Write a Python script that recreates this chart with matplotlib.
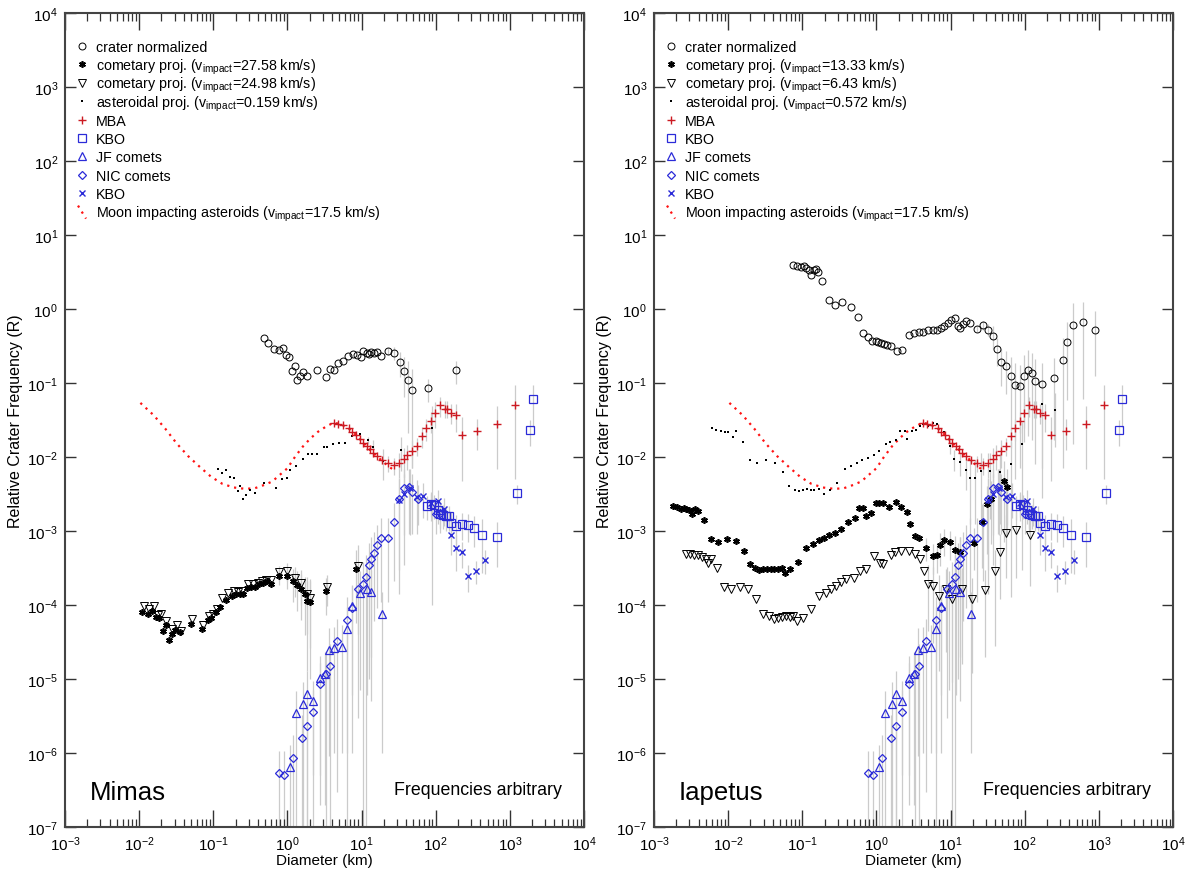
import matplotlib
matplotlib.use("Agg")
import matplotlib.pyplot as plt
import numpy as np

plt.rcParams['font.family'] = ['Liberation Sans', 'DejaVu Sans']
plt.rcParams['mathtext.fontset'] = 'custom'
plt.rcParams['mathtext.rm'] = 'Liberation Sans'

# ---- impactor populations (same on both panels) ----
moon_d = [0.0104, 0.0157, 0.0224, 0.032, 0.0457, 0.0652, 0.093, 0.133, 0.19, 0.271, 0.365, 0.49, 0.622, 0.789,
          1.0, 1.27, 1.61, 2.04, 2.58, 3.28, 4.16, 5.27, 6.68, 8.47, 10.7, 13.6, 17.3, 21.9, 26.2]
moon_r = [0.0538, 0.0367, 0.0243, 0.0153, 0.0103, 0.00741, 0.00543, 0.00433, 0.00387, 0.00371, 0.00379, 0.0042,
          0.00466, 0.00573, 0.00705, 0.0101, 0.0138, 0.0178, 0.0219, 0.0256, 0.029, 0.0278, 0.0243, 0.0198,
          0.0153, 0.0118, 0.0096, 0.0078, 0.00683]

mba_d = [4.25, 4.79, 5.59, 6.68, 7.52, 8.47, 9.53, 10.5, 11.7, 12.8, 14.4, 16.3, 19.0, 22.4, 27.1, 32.4, 37.3,
         41.0, 47.3, 55.2, 64.4, 74.3, 85.7, 98.9, 115, 133, 143, 161, 185, 227, 356, 668, 1180]
mba_r = [0.029, 0.0278, 0.0267, 0.0243, 0.0219, 0.0198, 0.0173, 0.0156, 0.0141, 0.0127, 0.0114, 0.0103, 0.0091,
         0.0082, 0.0078, 0.0082, 0.0094, 0.0106, 0.0122, 0.0142, 0.0194, 0.0243, 0.0308, 0.0399, 0.050, 0.0452,
         0.0452, 0.0395, 0.0367, 0.0198, 0.0226, 0.0278, 0.050]
mba_err = [0.001, 0.002, 0.002, 0.003, 0.004, 0.004, 0.005, 0.004, 0.006, 0.008, 0.01, 0.015, 0.015, 0.012,
           0.012, 0.012, 0.015, 0.015, 0.01, 0.021, 0.045]

kbo_d = [76.1, 85.7, 94.2, 106, 115, 127, 138, 150, 161, 185, 227, 271, 328, 425, 668, 1240, 1850, 2040]
kbo_r = [0.00221, 0.00233, 0.00226, 0.00194, 0.00169, 0.00166, 0.00161, 0.00161, 0.00128, 0.00116, 0.00126,
         0.00122, 0.0011, 0.00087, 0.00083, 0.00324, 0.0231, 0.0603]
kbo_err = [0.0008, 0.0008, 0.0008, 0.0007, 0.0006, 0.0006, 0.0006, 0.0006, 0.0005, 0.0005, 0.0005, 0.0005,
           0.0005, 0.0006, 0.0005, 0.0009, 0.009, 0.035]

kbox_d = [32.4, 37.3, 44.6, 55.2, 67.6, 85.7, 109, 130, 161, 185, 227, 271, 348, 462]
kbox_r = [0.00264, 0.00315, 0.00387, 0.00292, 0.0030, 0.00238, 0.00256, 0.00198, 0.00087, 0.00059, 0.00052,
          0.00025, 0.00029, 0.00041]
kbox_err = [0.0025, 0.0028, 0.003, 0.002, 0.0015, 0.001, 0.001, 0.0008, 0.0004, 0.0003, 0.0002, 0.0001,
            0.0001, 0.00015]

nic_d = [0.76, 0.90, 1.19, 1.55, 1.83, 2.24, 2.74, 3.28, 3.78, 4.68, 6.44, 7.5, 9.0, 10.5, 11.5, 12.5, 13.3,
         14.8, 15.9, 18.5, 22.4, 27.4, 32.4, 37.8, 43, 47.9, 58, 102, 115]
nic_r = [5.3e-7, 5.0e-7, 8.5e-7, 1.58e-6, 2.34e-6, 3.55e-6, 8.5e-6, 1.17e-5, 1.51e-5, 3.23e-5, 6.3e-5, 9.1e-5,
         1.63e-4, 1.9e-4, 2.4e-4, 3.5e-4, 4.2e-4, 5.1e-4, 6.4e-4, 8.1e-4, 8.1e-4, 1.31e-3, 2.7e-3, 3.87e-3,
         3.9e-3, 3.4e-3, 2.7e-3, 1.7e-3, 1.75e-3]
nic_err = [5.5e-7, 5.5e-7, 9e-7, 1.7e-6, 2.5e-6, 3.5e-6, 8e-6, 1.2e-5, 1.5e-5, 3.2e-5, 6.5e-5, 9e-5, 1.6e-4,
           1.9e-4, 2.4e-4, 3.4e-4, 4e-4, 4.5e-4, 5.5e-4, 7e-4, 7e-4, 1.1e-3, 2.4e-3, 3e-3, 3e-3, 2.5e-3,
           1.5e-3, 8e-4, 8e-4]

jf_d = [1.09, 1.31, 1.61, 1.85, 2.24, 2.74, 3.24, 3.69, 4.25, 5.46, 6.44, 7.5, 9.5, 11.7, 13.3, 19.0]
jf_r = [6.5e-7, 3.44e-6, 4.6e-6, 6.3e-6, 5.0e-6, 1.02e-5, 1.17e-5, 2.49e-5, 2.6e-5, 2.7e-5, 4.7e-5, 9.6e-5,
        1.47e-4, 1.66e-4, 1.5e-4, 7.6e-5]
jf_err = [6.5e-7, 3.4e-6, 4.6e-6, 6.5e-6, 4.5e-6, 1e-5, 1.15e-5, 2.4e-5, 2.5e-5, 2.6e-5, 4.6e-5, 9e-5, 1.4e-4,
          1.6e-4, 1.45e-4, 7.5e-5]

# ---- Mimas ----
mimas_crater_d = [0.48, 0.55, 0.66, 0.76, 0.86, 0.95, 1.05, 1.15, 1.27, 1.36, 1.48, 1.63, 1.83, 2.49, 3.28, 3.78,
                  4.25, 4.79, 5.59, 6.6, 7.6, 8.6, 9.7, 10.6, 11.7, 12.5, 13.6, 14.8, 16.3, 18.3, 22.7, 27.4,
                  32.7, 37.8, 42.6, 47.9, 78, 185]
mimas_crater_r = [0.407, 0.35, 0.29, 0.275, 0.30, 0.24, 0.224, 0.144, 0.171, 0.109, 0.123, 0.142, 0.126, 0.151,
                  0.120, 0.157, 0.151, 0.186, 0.198, 0.229, 0.248, 0.240, 0.224, 0.269, 0.256, 0.243, 0.261,
                  0.256, 0.261, 0.229, 0.269, 0.256, 0.19, 0.145, 0.111, 0.081, 0.085, 0.148]
mimas_crater_err = [0.03, 0.05, 0.07, 0.08, 0.09, 0.074, 0.03, 0.05]

mimas_com1_d = [0.0110, 0.01316, 0.0148, 0.0167, 0.0188, 0.0211, 0.0230, 0.0252, 0.0274, 0.0309, 0.0361, 0.0502,
                0.071, 0.0838, 0.093, 0.1087, 0.125, 0.150, 0.179, 0.201, 0.227, 0.255, 0.288, 0.324, 0.365,
                0.41, 0.462, 0.533, 0.608, 0.76, 0.98, 1.19, 1.35, 1.51, 1.71, 1.81, 1.99, 3.36, 8.47]
mimas_com1_r = [8.1e-5, 7.6e-5, 8.4e-5, 6.8e-5, 6.7e-5, 4.5e-5, 5.3e-5, 3.4e-5, 4.1e-5, 4.6e-5, 4.3e-5, 5.5e-5,
                4.8e-5, 6.3e-5, 6.6e-5, 8.0e-5, 9.3e-5, 1.16e-4, 1.32e-4, 1.39e-4, 1.39e-4, 1.39e-4, 1.71e-4,
                1.77e-4, 1.77e-4, 1.9e-4, 2.0e-4, 2.1e-4, 1.9e-4, 2.45e-4, 2.45e-4, 2.1e-4, 1.84e-4, 1.63e-4,
                1.39e-4, 1.13e-4, 1.1e-4, 1.54e-4, 3.08e-4]
mimas_com1_err = [6e-5, 8e-5, 1e-4, 1e-4, 1e-4, 1e-4, 1e-4, 1e-4, 8e-5, 2.5e-4]

mimas_com2_d = [0.01167, 0.0136, 0.0157, 0.0177, 0.0199, 0.023, 0.0274, 0.032, 0.0369, 0.0514, 0.0734, 0.0877,
                0.099, 0.113, 0.133, 0.159, 0.19, 0.214, 0.247, 0.298, 0.345, 0.396, 0.457, 0.52, 0.608, 0.76,
                1.0, 1.27, 1.51, 1.81, 2.04, 3.47, 9.0]
mimas_com2_r = [9.6e-5, 8.8e-5, 9.6e-5, 7.3e-5, 7.6e-5, 6.0e-5, 4.7e-5, 5.3e-5, 4.4e-5, 6.5e-5, 5.4e-5, 7.2e-5,
                7.6e-5, 8.8e-5, 1.26e-4, 1.44e-4, 1.54e-4, 1.5e-4, 1.54e-4, 1.9e-4, 1.92e-4, 2.0e-4, 2.1e-4,
                2.2e-4, 2.2e-4, 2.8e-4, 2.9e-4, 2.3e-4, 2.0e-4, 1.4e-4, 1.26e-4, 1.77e-4, 3.4e-4]
mimas_com2_err = [6e-5, 8e-5, 1e-4, 1e-4, 1e-4, 1e-4, 8e-5, 3e-4]

mimas_ast_d = [0.114, 0.133, 0.150, 0.169, 0.190, 0.214, 0.232, 0.252, 0.274, 0.309, 0.365, 0.49, 0.70, 0.84,
               0.977, 1.10, 1.31, 1.61, 1.88, 2.16, 2.52, 3.09, 3.47, 4.16, 4.97, 5.93, 7.5, 9.5, 12.1, 14.4,
               19.4, 34.4, 88.8]
mimas_ast_r = [0.00683, 0.00615, 0.00668, 0.00544, 0.00527, 0.00342, 0.00407, 0.00269, 0.00308, 0.0036, 0.00331,
               0.00442, 0.00379, 0.00501, 0.00527, 0.00668, 0.00764, 0.0094, 0.01086, 0.01086, 0.01086, 0.0138,
               0.0135, 0.0150, 0.0156, 0.0156, 0.0192, 0.0202, 0.0169, 0.0138, 0.00883, 0.0124, 0.0248]
mimas_ast_err = [0.002, 0.003, 0.004, 0.006, 0.0247]

# ---- Iapetus ----
iap_crater_d = [0.076, 0.0857, 0.0966, 0.105, 0.113, 0.122, 0.133, 0.143, 0.155, 0.164, 0.185, 0.227, 0.274,
                0.347, 0.452, 0.558, 0.66, 0.76, 0.867, 0.977, 1.06, 1.17, 1.28, 1.41, 1.55, 1.87, 2.24, 2.74,
                3.2, 3.73, 4.31, 4.97, 5.73, 6.52, 7.35, 8.28, 9.31, 10.2, 11.4, 12.5, 13.3, 14.5, 15.9, 18.5,
                22.7, 27.1, 32.4, 37.8, 42.6, 47.9, 55.2, 66.1, 74.3, 85.7, 96.6, 110, 127, 138, 171, 249, 328,
                373, 452, 608, 899]
iap_crater_r = [3.97, 3.84, 3.69, 3.84, 3.58, 3.40, 2.91, 3.32, 3.47, 3.16, 2.41, 1.31, 1.14, 1.23, 1.06, 0.77,
                0.475, 0.419, 0.366, 0.366, 0.355, 0.348, 0.34, 0.33, 0.32, 0.268, 0.277, 0.45, 0.475, 0.484,
                0.494, 0.515, 0.526, 0.526, 0.554, 0.596, 0.647, 0.718, 0.756, 0.583, 0.554, 0.634, 0.682, 0.647,
                0.543, 0.602, 0.526, 0.437, 0.288, 0.191, 0.172, 0.123, 0.095, 0.092, 0.126, 0.149, 0.137, 0.108,
                0.097, 0.117, 0.207, 0.359, 0.615, 0.661, 0.526]
iap_crater_err = [0.05, 0.08, 0.1, 0.15, 0.12, 0.1, 0.1, 0.1, 0.09, 0.085, 0.11, 0.13, 0.12, 0.1, 0.09, 0.1,
                  0.2, 0.3, 0.6, 0.6, 0.4]

iap_com1_d = [0.00181, 0.00204, 0.0023, 0.00252, 0.00274, 0.00301, 0.00327, 0.00357, 0.00392, 0.00479, 0.00593,
              0.00734, 0.00953, 0.0128, 0.0163, 0.0197, 0.0232, 0.0262, 0.0294, 0.0332, 0.0373, 0.0421, 0.0473,
              0.0533, 0.0586, 0.0676, 0.0877, 0.113, 0.138, 0.169, 0.197, 0.227, 0.274, 0.336, 0.41, 0.52, 0.586,
              0.66, 0.726, 0.838, 0.977, 1.10, 1.24, 1.48, 1.83, 2.16, 2.55, 2.84, 3.32, 3.73, 4.62, 5.79, 6.52,
              7.1, 8.28, 9.9, 11.4, 13.3, 20.6, 26.5, 31.3, 35.2, 52, 57.3]
iap_com1_r = [0.00217, 0.00213, 0.00196, 0.00206, 0.002, 0.00192, 0.00168, 0.00196, 0.00186, 0.00141, 0.000787,
              0.00071, 0.000787, 0.000725, 0.000537, 0.000355, 0.00032, 0.000294, 0.000304, 0.00031, 0.00031,
              0.00031, 0.00031, 0.000313, 0.000274, 0.000304, 0.000385, 0.000595, 0.00066, 0.000748, 0.000812,
              0.000873, 0.000948, 0.00107, 0.00132, 0.00151, 0.00202, 0.00202, 0.00159, 0.00177, 0.00236,
              0.00236, 0.00236, 0.0021, 0.00246, 0.00213, 0.00182, 0.00126, 0.000855, 0.000812, 0.000595,
              0.00046, 0.00047, 0.00064, 0.000755, 0.00071, 0.000548, 0.00052, 0.000695, 0.00132, 0.00229,
              0.00267, 0.00472, 0.00392]
iap_com1_err = [0.0002, 0.0002, 0.0002, 0.0003, 0.0003, 0.0003, 0.0003, 0.0003, 0.0004, 0.001, 0.0018, 0.002,
                0.004, 0.003]

iap_com2_d = [0.00274, 0.00309, 0.00348, 0.00392, 0.0044, 0.00497, 0.00527, 0.00593, 0.0071, 0.00877, 0.011,
              0.0145, 0.0188, 0.0238, 0.0294, 0.0352, 0.0421, 0.0473, 0.0533, 0.06, 0.0676, 0.076, 0.0857, 0.102,
              0.130, 0.169, 0.209, 0.244, 0.281, 0.336, 0.392, 0.497, 0.608, 0.726, 0.92, 1.13, 1.24, 1.57,
              1.77, 2.16, 2.74, 3.32, 3.82, 4.41, 4.97, 5.79, 6.92, 8.57, 10.5, 14.1, 19.7, 29.4, 39.6, 46.2,
              56.6, 76, 119]
iap_com2_r = [0.000494, 0.000484, 0.000469, 0.000469, 0.00045, 0.000414, 0.000373, 0.000423, 0.000313, 0.000177,
              0.000163, 0.000177, 0.000163, 0.000122, 7.65e-5, 7.12e-5, 6.55e-5, 6.76e-5, 6.97e-5, 7.12e-5,
              6.97e-5, 7.12e-5, 6.1e-5, 6.76e-5, 8.75e-5, 0.000133, 0.000147, 0.000166, 0.000181, 0.000205,
              0.000222, 0.000234, 0.000288, 0.00031, 0.000459, 0.000366, 0.000355, 0.000469, 0.00052, 0.000537,
              0.000537, 0.000484, 0.000414, 0.000288, 0.000195, 0.000181, 0.000133, 0.000163, 0.000119,
              0.000166, 0.000122, 0.00016, 0.000288, 0.00052, 0.00093, 0.00103, 0.00088]
iap_com2_err = [0.00015, 0.00015, 0.00012, 0.00014, 0.00011, 0.00015, 0.00011, 0.00014, 0.00026, 0.0004, 0.0007,
                0.0008, 0.0007]

iap_ast_d = [0.00615, 0.00692, 0.00798, 0.0090, 0.0101, 0.01167, 0.0128, 0.0159, 0.0195, 0.0247, 0.0324, 0.0435,
             0.0546, 0.0661, 0.0789, 0.091, 0.102, 0.115, 0.130, 0.146, 0.169, 0.197, 0.235, 0.291, 0.377,
             0.452, 0.54, 0.644, 0.771, 0.92, 1.10, 1.35, 1.51, 1.81, 2.11, 2.44, 2.62, 3.01, 3.40, 3.82, 4.31,
             4.97, 5.79, 6.52, 8.28, 9.9, 11.1, 13.3, 15.9, 18.5, 21.4, 25.5, 34.4, 46.2, 66.1, 92, 171, 258]
iap_ast_r = [0.0248, 0.0235, 0.0223, 0.0217, 0.0217, 0.0187, 0.0223, 0.0159, 0.00908, 0.00818, 0.00908, 0.00835,
             0.00625, 0.00405, 0.00357, 0.00346, 0.00357, 0.00365, 0.00357, 0.00357, 0.00372, 0.00312, 0.00357,
             0.00449, 0.00679, 0.00753, 0.00818, 0.00908, 0.00975, 0.0106, 0.012, 0.0148, 0.0159, 0.0169,
             0.0223, 0.0223, 0.0176, 0.0223, 0.0235, 0.0261, 0.0281, 0.0261, 0.0284, 0.0275, 0.0217, 0.014,
             0.00946, 0.00861, 0.00658, 0.00524, 0.00524, 0.00644, 0.00644, 0.00625, 0.00793, 0.0148, 0.0528,
             0.0438]
iap_ast_err = [0.003, 0.003, 0.003, 0.003, 0.004, 0.004, 0.005, 0.005, 0.005, 0.0078, 0.0145, 0.05, 0.03]

BLUE = '#2b2bd8'
RED = '#cc1a22'
MOON_RED = '#ff1414'
GREY = '#cbcbcb'

# figure geometry (pixels)
W, H = 1192, 870
AX_W, AX_H = 519, 814
AX_BOTTOM = 42


def err_bars(ax, d, r, tail_err):
    d = np.asarray(d, float)
    r = np.asarray(r, float)
    s = np.zeros(len(d))
    s[len(d) - len(tail_err):] = tail_err
    m = s > 0
    lo = np.clip(r[m] - s[m], 1e-9, None)
    hi = r[m] + s[m]
    ax.vlines(d[m], lo, hi, color=GREY, lw=0.9, zorder=1)


def key_row(ax, i, text, style, moon=False):
    # rows are evenly spaced, 18.4 px apart, first row 33 px below the top spine
    y = 1 - (33 + 18.4 * i) / AX_H
    x = 17 / AX_W
    if moon:
        ax.plot([x - 4 / AX_W, x + 4 / AX_W], [y + 6 / AX_H, y - 7 / AX_H], transform=ax.transAxes,
                clip_on=False, **style)
    else:
        ax.plot([x], [y], transform=ax.transAxes, clip_on=False, ls='none', **style)
    ax.text(31 / AX_W, y - 5 / AX_H, text, transform=ax.transAxes, fontsize=10.3, va='baseline', ha='left')


def draw_panel(ax, name, crater, com1, com2, ast, v1, v2, v3):
    # grey error bars underneath
    err_bars(ax, *crater)
    err_bars(ax, *com1)
    err_bars(ax, *com2)
    err_bars(ax, *ast)
    err_bars(ax, mba_d, mba_r, mba_err)
    err_bars(ax, kbo_d, kbo_r, kbo_err)
    err_bars(ax, kbox_d, kbox_r, kbox_err)
    err_bars(ax, nic_d, nic_r, nic_err)
    err_bars(ax, jf_d, jf_r, jf_err)

    st_crater = dict(marker='o', mfc='none', mec='black', ms=5, mew=0.7)
    st_com1 = dict(marker=(6, 2, 0), color='black', ms=4.8, mew=1.2)
    st_com2 = dict(marker='v', mfc='none', mec='black', ms=5.2, mew=0.7)
    st_ast = dict(marker='s', color='black', ms=1.8, mew=0)
    st_mba = dict(marker='+', color=RED, ms=5.5, mew=1.0)
    st_kbo = dict(marker='s', mfc='none', mec=BLUE, ms=5.5, mew=0.9)
    st_jf = dict(marker='^', mfc='none', mec=BLUE, ms=5.5, mew=0.9)
    st_nic = dict(marker='D', mfc='none', mec=BLUE, ms=4, mew=0.9)
    st_kbox = dict(marker='x', color=BLUE, ms=5, mew=1.0)
    st_moon = dict(color=MOON_RED, lw=1.6, ls=(0, (1, 2.2)))

    ax.plot(moon_d, moon_r, zorder=2, **st_moon)
    ax.plot(crater[0], crater[1], ls='none', zorder=3, **st_crater)
    ax.plot(com1[0], com1[1], ls='none', zorder=3, **st_com1)
    ax.plot(com2[0], com2[1], ls='none', zorder=3, **st_com2)
    ax.plot(ast[0], ast[1], ls='none', zorder=3, **st_ast)
    ax.plot(mba_d, mba_r, ls='none', zorder=3, **st_mba)
    ax.plot(kbo_d, kbo_r, ls='none', zorder=3, **st_kbo)
    ax.plot(jf_d, jf_r, ls='none', zorder=3, **st_jf)
    ax.plot(nic_d, nic_r, ls='none', zorder=3, **st_nic)
    ax.plot(kbox_d, kbox_r, ls='none', zorder=3, **st_kbox)

    sub = 'v$_{\\mathregular{impact}}$'
    key_row(ax, 0, 'crater normalized', st_crater)
    key_row(ax, 1, 'cometary proj. (%s=%s km/s)' % (sub, v1), st_com1)
    key_row(ax, 2, 'cometary proj. (%s=%s km/s)' % (sub, v2), st_com2)
    key_row(ax, 3, 'asteroidal proj. (%s=%s km/s)' % (sub, v3), st_ast)
    key_row(ax, 4, 'MBA', st_mba)
    key_row(ax, 5, 'KBO', st_kbo)
    key_row(ax, 6, 'JF comets', st_jf)
    key_row(ax, 7, 'NIC comets', st_nic)
    key_row(ax, 8, 'KBO', st_kbox)
    key_row(ax, 9, 'Moon impacting asteroids (%s=17.5 km/s)' % sub, st_moon, moon=True)

    ax.set_xscale('log')
    ax.set_yscale('log')
    ax.set_xlim(1e-3, 1e4)
    ax.set_ylim(1e-7, 1e4)
    ax.set_xticks([10.0 ** k for k in range(-3, 5)])
    ax.set_yticks([10.0 ** k for k in range(-7, 5)])
    ax.tick_params(which='both', direction='in', top=True, right=True, labelsize=11, colors='#333333',
                   labelcolor='black')
    ax.tick_params(axis='x', which='major', length=12, width=1.0, pad=5)
    ax.tick_params(axis='x', which='minor', length=6, width=0.9)
    ax.tick_params(axis='y', which='major', length=8, width=1.0, pad=5)
    ax.tick_params(axis='y', which='minor', length=4.5, width=0.9)
    for sp in ax.spines.values():
        sp.set_color('#444444')
        sp.set_linewidth(1.5)
    ax.set_xlabel('Diameter (km)', fontsize=11, labelpad=0)
    ax.set_ylabel('Relative Crater Frequency (R)', fontsize=11.5, labelpad=3)

    ax.text(0.048, 0.0344, name, transform=ax.transAxes, fontsize=18.5, ha='left', va='baseline')
    ax.text(0.958, 0.0405, 'Frequencies arbitrary', transform=ax.transAxes, fontsize=12.8,
            ha='right', va='baseline')


fig = plt.figure(figsize=(W / 100, H / 100), dpi=100)
ax1 = fig.add_axes([65 / W, AX_BOTTOM / H, AX_W / W, AX_H / H])
ax2 = fig.add_axes([654 / W, AX_BOTTOM / H, AX_W / W, AX_H / H])

draw_panel(ax1, 'Mimas',
           (mimas_crater_d, mimas_crater_r, mimas_crater_err),
           (mimas_com1_d, mimas_com1_r, mimas_com1_err),
           (mimas_com2_d, mimas_com2_r, mimas_com2_err),
           (mimas_ast_d, mimas_ast_r, mimas_ast_err),
           '27.58', '24.98', '0.159')
draw_panel(ax2, 'Iapetus',
           (iap_crater_d, iap_crater_r, iap_crater_err),
           (iap_com1_d, iap_com1_r, iap_com1_err),
           (iap_com2_d, iap_com2_r, iap_com2_err),
           (iap_ast_d, iap_ast_r, iap_ast_err),
           '13.33', '6.43', '0.572')

fig.savefig('out.png', dpi=100)
